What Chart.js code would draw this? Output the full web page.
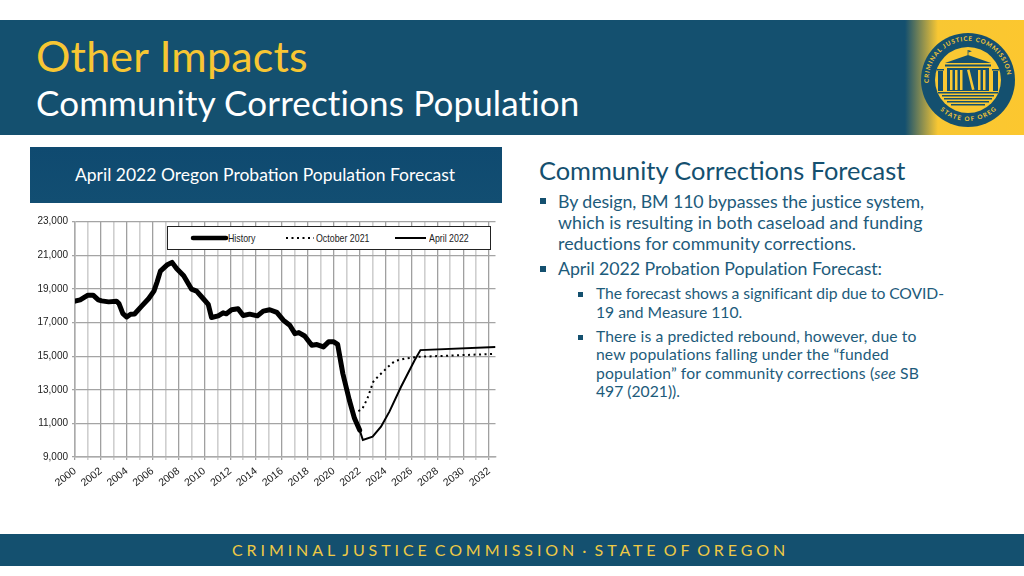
<!DOCTYPE html>
<html><head><meta charset="utf-8">
<script src="https://cdn.jsdelivr.net/npm/chart.js@4"></script>
<style>
html,body{margin:0;padding:0;background:#fff;width:1024px;height:576px;overflow:hidden}
body{font-family:Lato,"Open Sans",sans-serif;position:relative}
.a{position:absolute;white-space:nowrap;line-height:1}
#head{left:0;top:20px;width:1024px;height:115px;background:linear-gradient(90deg,#14506f 0,#14506f 905px,#f8c733 938px,#fcc72f 1024px)}
#foot{left:0;top:534px;width:1024px;height:32px;background:#14506f}
#band{left:30px;top:147px;width:472px;height:56px;background:linear-gradient(180deg,#0f4a70,#124e72)}
.b{color:#1d5b7b}
.h{color:#14506f}
.s1{position:absolute;width:6px;height:6px;left:540px;background:#14506f}
.s2{position:absolute;width:5px;height:5px;left:578px;background:#14506f}
.l1{left:558px;font-size:17.800px}
.l2{left:596px;font-size:15.700px}
#chartBox{position:absolute;left:20px;top:205px;width:490px;height:290px}
#legend{position:absolute;left:167px;top:226px;width:322px;height:22px;border:1px solid #222;background:#fff;font:10.500px "Liberation Sans",sans-serif;color:#222}
#legend span{position:absolute;top:5.500px;line-height:11px;transform:scaleX(.84);transform-origin:0 50%}
#legend svg{position:absolute;left:0;top:0}
</style></head><body>
<div class="a" id="head"></div>
<div class="a" style="left:36px;top:34px;font-size:43px;letter-spacing:.2px;color:#f7c633">Other Impacts</div>
<div class="a" style="left:36px;top:85px;font-size:35px;letter-spacing:.15px;color:#fff">Community Corrections Population</div>
<svg class="a" style="left:918px;top:30px" width="100" height="100" viewBox="0 0 100 100">
<circle cx="50" cy="50" r="47" fill="#14506f"/><circle cx="50" cy="50" r="33" fill="#f9c833"/>
<defs><path id="t1" d="M11.500 58 A39.300 39.300 0 1 1 88.500 58"/><path id="t2" d="M20 78 A41 41 0 0 0 80 78"/></defs>
<text font-size="6.200" font-family="Lato" font-weight="700" fill="#f9c833" letter-spacing=".9"><textPath href="#t1" startOffset="5">CRIMINAL JUSTICE COMMISSION</textPath></text>
<text font-size="6.200" font-family="Lato" font-weight="700" fill="#f9c833" letter-spacing="1.300"><textPath href="#t2" startOffset="3">STATE OF OREGON</textPath></text>
<g fill="#14506f"><path d="M27 33 L50 25 L73 33Z"/><rect x="49.600" y="20" width=".8" height="5"/><path d="M50.400 20l3.500 1.300-3.500 1.300z"/>
<rect x="27" y="34.500" width="46" height="2"/>
<rect x="19" y="39" width="7" height="1.500"/><rect x="74" y="39" width="7" height="1.500"/><rect x="20" y="41" width="5" height="20"/><rect x="75" y="41" width="5" height="20"/>
<rect x="29" y="38" width="42" height="23"/><rect x="20" y="62" width="60" height="1.500"/>
<rect x="24" y="65" width="52" height="1.500"/><rect x="26" y="68" width="48" height="1.500"/><rect x="29" y="71" width="42" height="1.500"/><rect x="33" y="74" width="34" height="1.500"/></g>
<g fill="#f9c833"><rect x="32" y="40" width="2.500" height="20"/><rect x="37" y="40" width="2.500" height="20"/><rect x="42" y="40" width="2.500" height="20"/><path d="M49 40l2.500-.5 5 20-2.500 .5z"/><rect x="60" y="40" width="2.500" height="20"/><rect x="65" y="40" width="2.500" height="20"/></g>
</svg>
<div class="a" id="band"></div>
<div class="a" style="left:75px;top:166px;font-size:17.500px;color:#fff">April 2022 Oregon Probation Population Forecast</div>
<div class="a h" style="left:539px;top:158px;font-size:25.400px">Community Corrections Forecast</div>
<div class="s1" style="top:198px"></div>
<div class="a b l1" style="top:193px;letter-spacing:-.09px">By design, BM 110 bypasses the justice system,</div>
<div class="a b l1" style="top:214px;letter-spacing:.02px">which is resulting in both caseload and funding</div>
<div class="a b l1" style="top:235px;letter-spacing:.05px">reductions for community corrections.</div>
<div class="s1" style="top:266px"></div>
<div class="a b l1" style="top:260px;letter-spacing:-.07px">April 2022 Probation Population Forecast:</div>
<div class="s2" style="top:292px"></div>
<div class="a b l2" style="top:286px;letter-spacing:-.08px">The forecast shows a significant dip due to COVID-</div>
<div class="a b l2" style="top:305px">19 and Measure 110.</div>
<div class="s2" style="top:335px"></div>
<div class="a b l2" style="top:329px;letter-spacing:.11px">There is a predicted rebound, however, due to</div>
<div class="a b l2" style="top:347px;letter-spacing:.12px">new populations falling under the “funded</div>
<div class="a b l2" style="top:366px;letter-spacing:.15px">population” for community corrections (<i>see</i> SB</div>
<div class="a b l2" style="top:384px">497 (2021)).</div>
<div class="a" id="foot"></div>
<div class="a" style="left:232px;top:542px;font-size:16px;letter-spacing:3.900px;word-spacing:-3.800px;color:#eec945">CRIMINAL JUSTICE COMMISSION · STATE OF OREGON</div>
<div id="chartBox"><canvas id="c"></canvas></div>
<div id="legend"></div>
<script>
const seriesNames = ["History", "October 2021", "April 2022"];
const historyYears = [2000,2000.4,2001,2001.4,2001.8,2002.06,2002.6,2003.2,2003.4,2003.7,2004,2004.3,2004.6,2005.1,2005.7,2006.1,2006.35,2006.6,2007.1,2007.5,2007.85,2008.4,2009,2009.4,2009.9,2010.3,2010.55,2011.07,2011.45,2011.7,2012.1,2012.6,2013,2013.5,2014.1,2014.55,2015.05,2015.6,2016.1,2016.6,2017,2017.3,2017.75,2018.3,2018.7,2019.2,2019.6,2020,2020.3,2020.7,2021.2,2021.6,2022];
const historyValues = [18270,18350,18630,18630,18350,18290,18230,18270,18130,17530,17330,17490,17510,17930,18430,18870,19430,20060,20420,20580,20220,19780,18990,18870,18430,18080,17300,17400,17580,17520,17760,17820,17420,17500,17400,17680,17760,17600,17140,16840,16340,16400,16200,15650,15690,15550,15850,15850,15700,13970,12390,11300,10600];
const october2021Years = [2021.9,2022.2,2022.6,2023.05,2023.4,2024.2,2024.7,2025.5,2026.5,2028.6,2032.5];
const october2021Values = [11730,11850,12480,13470,13770,14370,14700,14860,14960,15020,15140];
const april2022Years = [2022,2022.25,2023,2023.65,2024.3,2025.2,2026.25,2026.7,2032.5];
const april2022Values = [10600,10010,10210,10800,11700,13180,14760,15360,15550];
const yMin = 9000, yMax = 23000, yStep = 2000, xMin = 2000, xMax = 2032.5;
const toXY = (xs, ys) => xs.map((x, i) => ({x, y: ys[i]}));

const lg = document.getElementById('legend');
lg.innerHTML = '<svg width="322" height="22">' +
 '<line x1="25" y1="11" x2="58" y2="11" stroke="#000" stroke-width="4.500" stroke-linecap="round"/>' +
 '<line x1="118" y1="11" x2="146" y2="11" stroke="#000" stroke-width="2" stroke-dasharray="2 3.500"/>' +
 '<line x1="227" y1="11" x2="258" y2="11" stroke="#000" stroke-width="2"/></svg>' +
 '<span style="left:60px">' + seriesNames[0] + '</span><span style="left:148px">' + seriesNames[1] + '</span><span style="left:261px">' + seriesNames[2] + '</span>';

new Chart(document.getElementById('c'), {
  type: 'line',
  data: { datasets: [
    {label: seriesNames[0], data: toXY(historyYears, historyValues), borderColor:'#000', borderWidth:5, borderJoinStyle:'round', borderCapStyle:'round', pointRadius:0, tension:0, order:0},
    {label: seriesNames[1], data: toXY(october2021Years, october2021Values), borderColor:'#000', borderWidth:2, borderDash:[2,3.5], pointRadius:0, tension:0, order:2},
    {label: seriesNames[2], data: toXY(april2022Years, april2022Values), borderColor:'#000', borderWidth:2, pointRadius:0, tension:0, order:1}
  ]},
  options: {
    responsive:true, maintainAspectRatio:false, animation:false,
    layout:{padding:{top:16.7,right:14.5,left:0,bottom:0}},
    plugins:{legend:{display:false},tooltip:{enabled:false}},
    scales:{
      x:{type:'linear',min:xMin,max:xMax,
        afterFit:s=>{s.height=38},
        border:{color:'#aaa',width:1.5},
        grid:{color:c=>(c.tick&&c.tick.value%2===0)?'#a0a0a0':'#cfcfcf',lineWidth:c=>(c.tick&&c.tick.value%2===0)?1.3:1.6,tickLength:3},
        ticks:{stepSize:1,autoSkip:false,includeBounds:false,minRotation:38,maxRotation:38,padding:5,color:'#222',
          font:{family:'"Liberation Sans",sans-serif',size:10.5},
          callback:v=>v%2===0?String(v):''}},
      y:{min:yMin,max:yMax,
        afterFit:s=>{s.width=55},
        border:{color:'#aaa',width:1.5},
        grid:{color:'#a4a4a4',lineWidth:1.2,tickLength:3},
        ticks:{stepSize:yStep,padding:4,color:'#222',
          font:{family:'"Liberation Sans",sans-serif',size:10},
          callback:v=>v.toLocaleString('en-US')}}
    }
  }
});
</script>
</body></html>
